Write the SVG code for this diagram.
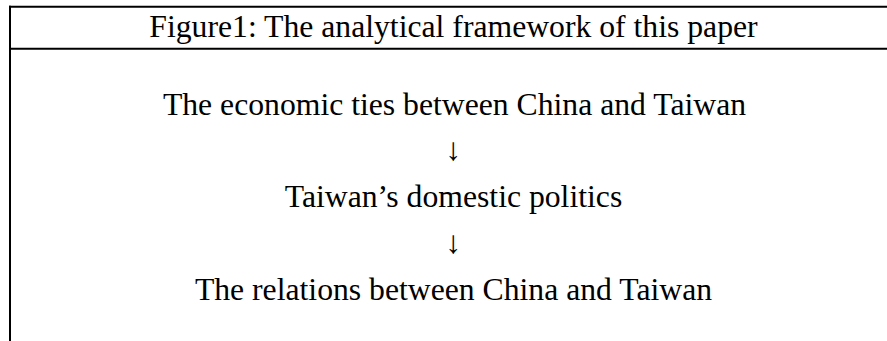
<svg xmlns="http://www.w3.org/2000/svg" width="887" height="341" viewBox="0 0 887 341">
<style>
  .t { font-family: "Liberation Serif", "Times New Roman", serif; font-size: 31.7px; fill: #000; text-anchor: middle; }
  .rule { stroke: #000; stroke-width: 2; fill: none; }
</style>
<rect width="887" height="341" fill="#fff"/>
<g id="frame">
  <line class="rule" x1="9" y1="6.7" x2="887" y2="6.7"/>
  <line class="rule" x1="9" y1="48.8" x2="887" y2="48.8"/>
  <line class="rule" x1="10" y1="5.7" x2="10" y2="341"/>
</g>
<g id="title">
  <text class="t" x="453.5" y="36.7">Figure1: The analytical framework of this paper</text>
</g>
<g id="node-economic-ties">
  <text class="t" x="454.5" y="115">The economic ties between China and Taiwan</text>
</g>
<g id="node-domestic-politics">
  <text class="t" x="453.5" y="207">Taiwan’s domestic politics</text>
</g>
<g id="node-relations">
  <text class="t" x="453.5" y="300">The relations between China and Taiwan</text>
</g>
<g id="connectors">
  <text class="t" x="453.3" y="160">↓</text>
  <text class="t" x="453.3" y="253">↓</text>
</g>
</svg>
